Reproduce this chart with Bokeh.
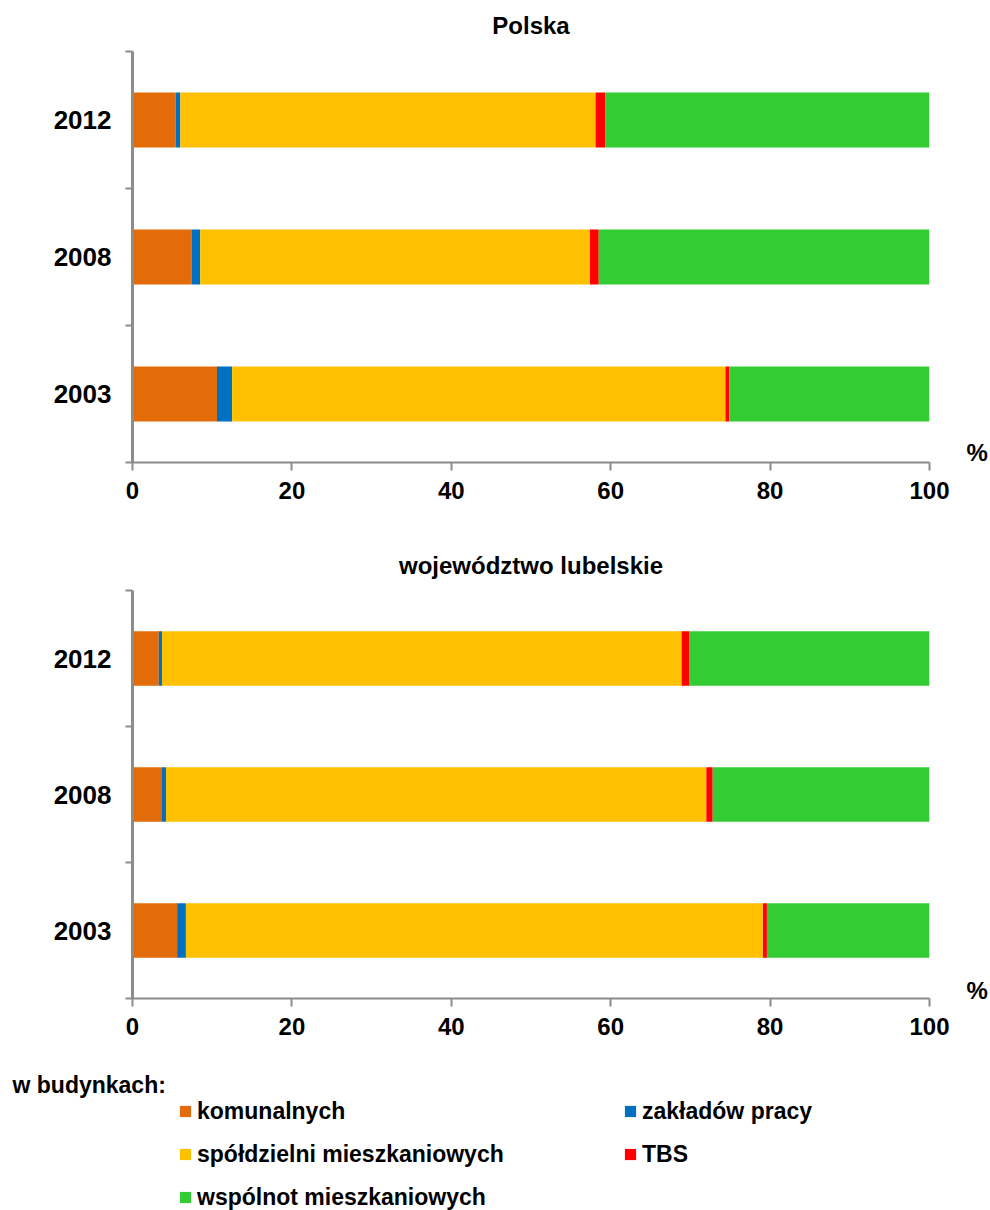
from bokeh.plotting import figure
from bokeh.layouts import column
from bokeh.models import (Range1d, LinearAxis, FixedTicker, CustomJSTickFormatter,
                          Legend, LegendItem)
from bokeh.embed import file_html
from bokeh.resources import INLINE

# Dwellings by type of owner of the building (percent)
years = ["2003", "2008", "2012"]
series = ["komunalnych", "zakładów pracy", "spółdzielni mieszkaniowych", "TBS",
          "wspólnot mieszkaniowych"]
colors = ["#E36C0A", "#0070C0", "#FFC000", "#FF0000", "#33CC33"]

polska_komunalnych = [10.6, 7.4, 5.4]
polska_zakladow = [1.9, 1.1, 0.6]
polska_spoldzielni = [61.9, 48.9, 52.1]
polska_tbs = [0.5, 1.1, 1.2]
polska_wspolnot = [25.1, 41.5, 40.7]

lub_komunalnych = [5.6, 3.7, 3.3]
lub_zakladow = [1.1, 0.5, 0.4]
lub_spoldzielni = [72.4, 67.8, 65.2]
lub_tbs = [0.5, 0.8, 1.0]
lub_wspolnot = [20.4, 27.2, 30.1]

x_ticks = [0, 20, 40, 60, 80, 100]
legend_title = "w budynkach:"

FONT = "Liberation Sans"
GRAY = "#8C8C8C"
LEFT, RIGHT = 132, 60


def bar_source(values):
    source = {"y": [i + 0.5 for i in range(len(years))]}
    for name, vals in zip(series, values):
        source[name] = vals
    return source


def make_chart(title, values, height, top, bottom, title_standoff, title_valign,
               unit_y):
    p = figure(width=990, height=height, output_backend="svg", toolbar_location=None,
               x_range=Range1d(0, 100), y_range=Range1d(0, len(years)),
               min_border_top=top, min_border_bottom=bottom,
               min_border_left=LEFT, min_border_right=RIGHT,
               x_axis_type=None, y_axis_type=None)
    p.outline_line_color = None
    p.background_fill_color = "white"
    p.border_fill_color = "white"

    p.title.text = title
    p.title.align = "center"
    p.title.vertical_align = title_valign
    p.title.text_font = FONT
    p.title.text_font_size = "24px"
    p.title.text_font_style = "bold"
    p.title.text_color = "black"
    p.title.standoff = title_standoff

    p.hbar_stack(series, y="y", height=0.4, color=colors, line_color=None,
                 source=bar_source(values))

    # x axis: percent scale, vertical gridlines with short outer ticks
    xaxis = LinearAxis(ticker=FixedTicker(ticks=x_ticks))
    xaxis.axis_line_color = GRAY
    xaxis.axis_line_width = 2
    xaxis.major_tick_line_color = GRAY
    xaxis.major_tick_line_width = 2
    xaxis.major_tick_in = 0
    xaxis.major_tick_out = 8
    xaxis.minor_tick_line_color = None
    xaxis.major_label_text_font = FONT
    xaxis.major_label_text_font_size = "24px"
    xaxis.major_label_text_font_style = "bold"
    xaxis.major_label_text_color = "black"
    xaxis.major_label_standoff = 11
    p.add_layout(xaxis, "below")

    # y axis: year labels centred in their bands, ticks on band boundaries
    yaxis = LinearAxis(
        ticker=FixedTicker(ticks=[i + 0.5 for i in range(len(years))],
                           minor_ticks=list(range(len(years) + 1))),
        formatter=CustomJSTickFormatter(args=dict(labels=years),
                                        code="return labels[Math.floor(tick)]"))
    yaxis.axis_line_color = GRAY
    yaxis.axis_line_width = 3
    yaxis.major_tick_line_color = None
    yaxis.major_tick_in = 0
    yaxis.major_tick_out = 0
    yaxis.minor_tick_line_color = GRAY
    yaxis.minor_tick_line_width = 2
    yaxis.minor_tick_in = 0
    yaxis.minor_tick_out = 7
    yaxis.major_label_text_font = FONT
    yaxis.major_label_text_font_size = "26px"
    yaxis.major_label_text_font_style = "bold"
    yaxis.major_label_text_color = "black"
    yaxis.major_label_standoff = 14
    p.add_layout(yaxis, "left")

    # unit sign on the right, next to the end of the x axis
    unit_axis = LinearAxis(ticker=FixedTicker(ticks=[unit_y]),
                           formatter=CustomJSTickFormatter(code="return '%'"))
    unit_axis.axis_line_color = None
    unit_axis.major_tick_line_color = None
    unit_axis.minor_tick_line_color = None
    unit_axis.major_tick_in = 0
    unit_axis.major_tick_out = 0
    unit_axis.major_label_standoff = 37
    unit_axis.major_label_text_font = FONT
    unit_axis.major_label_text_font_size = "24px"
    unit_axis.major_label_text_font_style = "bold"
    unit_axis.major_label_text_color = "black"
    p.add_layout(unit_axis, "right")

    p.xgrid.ticker = FixedTicker(ticks=x_ticks)
    p.xgrid.grid_line_color = GRAY
    p.xgrid.grid_line_width = 2
    p.ygrid.grid_line_color = None
    return p


lub_values = [lub_komunalnych, lub_zakladow, lub_spoldzielni, lub_tbs, lub_wspolnot]

p1 = make_chart("Polska",
                [polska_komunalnych, polska_zakladow, polska_spoldzielni,
                 polska_tbs, polska_wspolnot],
                height=520, top=51, bottom=58, title_standoff=21,
                title_valign="top", unit_y=0.073)

p2 = make_chart("województwo lubelskie", lub_values,
                height=530, top=70, bottom=52, title_standoff=24,
                title_valign="bottom", unit_y=0.06)

# legend strip under the charts
p3 = figure(width=990, height=160, output_backend="svg", toolbar_location=None,
            x_range=Range1d(0, 100), y_range=Range1d(0, len(years)),
            min_border_top=47, min_border_bottom=0,
            min_border_left=LEFT, min_border_right=RIGHT,
            x_axis_type=None, y_axis_type=None)
p3.outline_line_color = None
p3.xgrid.visible = False
p3.ygrid.visible = False
p3.title.text = legend_title
p3.title.align = "left"
p3.title.offset = 12 - LEFT
p3.title.standoff = 0
p3.title.text_font = FONT
p3.title.text_font_size = "23px"
p3.title.text_font_style = "bold"
p3.title.text_color = "black"

# swatch renderers carry the legend glyphs only
swatches = p3.hbar_stack(series, y="y", height=0.4, color=colors, line_color=None,
                         source=bar_source(lub_values))
for r in swatches:
    r.visible = False

legend_style = dict(label_text_font=FONT, label_text_font_size="23px",
                    label_text_font_style="bold", label_text_color="black",
                    glyph_width=14, glyph_height=14, label_height=28,
                    label_standoff=5, spacing=15, padding=0, margin=0,
                    border_line_color=None, background_fill_alpha=0,
                    click_policy="none")
col1 = [0, 2, 4]
col2 = [1, 3]
leg1 = Legend(items=[LegendItem(label=series[i], renderers=[swatches[i]]) for i in col1],
              location=(178 - LEFT, -1), **legend_style)
leg2 = Legend(items=[LegendItem(label=series[i], renderers=[swatches[i]]) for i in col2],
              location=(623 - LEFT, 42), **legend_style)
p3.add_layout(leg1)
p3.add_layout(leg2)

layout = column(p1, p2, p3, spacing=0)
open("out.html", "w").write(file_html(layout, INLINE))
